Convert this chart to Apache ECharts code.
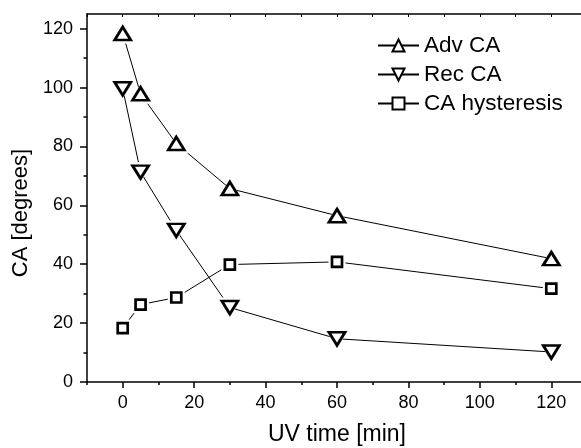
<!DOCTYPE html>
<html>
<head>
<meta charset="utf-8">
<script src="https://cdn.jsdelivr.net/npm/echarts@6/dist/echarts.min.js"></script>
<style>html,body{margin:0;padding:0;background:#fff}#c{width:581px;height:448px}</style>
</head>
<body>
<div id="c"></div>
<script>
// Data
var timeMin = [0, 5, 15, 30, 60, 120];
var advCA = [118.4, 97.9, 81, 65.7, 56.5, 41.9];
var recCA = [99.6, 71.3, 51.5, 25.3, 14.7, 10.2];
var hysteresis = [18.3, 26.3, 28.7, 39.9, 40.8, 31.7];
var seriesNames = ['Adv CA', 'Rec CA', 'CA hysteresis'];
var xMajorTicks = [0, 20, 40, 60, 80, 100, 120];
var xMinorTicks = [-10, 10, 30, 50, 70, 90, 110, 130];
var yMajorTicks = [0, 20, 40, 60, 80, 100, 120];
var yMinorTicks = [10, 30, 50, 70, 90, 110];

var FONT = '"Liberation Sans", Arial, sans-serif';
var downTri = 'path://M0,0L10,0L5,8.66Z';
var symbols = ['triangle', downTri, 'rect'];
var sizes = [[16, 13], [16, 13], [10, 10]];
var haloSizes = [[24, 20], [24, 20], [17, 17]];
var values = [advCA, recCA, hysteresis];
var BW = 2.7;

function pairs(arr) {
  return timeMin.map(function (t, i) { return [t, arr[i]]; });
}

var series = [];
values.forEach(function (v, k) {
  series.push({
    name: seriesNames[k], type: 'line', data: pairs(v), z: 2,
    symbol: symbols[k], symbolSize: sizes[k], showAllSymbol: true,
    lineStyle: { color: '#000', width: 1 },
    itemStyle: { color: '#fff', borderColor: '#000', borderWidth: BW },
    emphasis: { disabled: true }, animation: false
  });
});
values.forEach(function (v, k) {
  series.push({
    type: 'scatter', data: pairs(v), z: 3, silent: true,
    symbol: symbols[k], symbolSize: haloSizes[k],
    itemStyle: { color: '#fff', opacity: 1 }, animation: false
  });
});
values.forEach(function (v, k) {
  series.push({
    type: 'scatter', data: pairs(v), z: 4, silent: true,
    symbol: symbols[k], symbolSize: sizes[k],
    itemStyle: { color: '#fff', borderColor: '#000', borderWidth: BW, opacity: 1 }, animation: false
  });
});

var axisLineStyle = { onZero: false, lineStyle: { color: '#000', width: 1.5 } };
var chart = echarts.init(document.getElementById('c'), null, { renderer: 'canvas' });
chart.setOption({
  animation: false,
  backgroundColor: '#fff',
  textStyle: { fontFamily: FONT },
  grid: { left: 87, top: 14, right: -6, bottom: 66, containLabel: false, outerBoundsMode: 'none' },
  legend: {
    data: seriesNames, orient: 'vertical', left: 372, top: 29, padding: 5,
    itemWidth: 41, itemHeight: 15, itemGap: 6,
    textStyle: { fontSize: 22.5, color: '#000', fontFamily: FONT },
    selectedMode: false
  },
  xAxis: [
    {
      type: 'value', min: -10, max: 130, interval: 10, position: 'bottom',
      name: 'UV time [min]', nameLocation: 'middle', nameGap: 41,
      nameTextStyle: { fontSize: 23, color: '#000', fontFamily: FONT },
      axisLine: axisLineStyle,
      axisTick: { show: true, inside: false, length: 6, customValues: xMajorTicks, lineStyle: { color: '#000', width: 1.5 } },
      axisLabel: { customValues: xMajorTicks, fontSize: 18, color: '#000', margin: 12, fontFamily: FONT },
      splitLine: { show: false }
    },
    {
      type: 'value', min: -10, max: 130, interval: 10, position: 'bottom',
      axisLine: { show: false, onZero: false },
      axisTick: { show: true, inside: false, length: 3, customValues: xMinorTicks, lineStyle: { color: '#000', width: 1.5 } },
      axisLabel: { show: false }, splitLine: { show: false }
    },
    {
      type: 'value', min: -10, max: 130, interval: 10, position: 'top',
      axisLine: axisLineStyle,
      axisTick: { show: true, inside: true, length: 3, lineStyle: { color: '#000', width: 1 } },
      axisLabel: { show: false }, splitLine: { show: false }
    }
  ],
  yAxis: [
    {
      type: 'value', min: 0, max: 125, interval: 20, position: 'left',
      name: 'CA [degrees]', nameLocation: 'middle', nameGap: 55,
      nameTextStyle: { fontSize: 22, color: '#000', fontFamily: FONT, padding: [0, 30, 0, 0] },
      axisLine: axisLineStyle,
      axisTick: { show: true, inside: false, length: 7, customValues: yMajorTicks, lineStyle: { color: '#000', width: 1.5 } },
      axisLabel: { customValues: yMajorTicks, fontSize: 18, color: '#000', margin: 14, fontFamily: FONT },
      splitLine: { show: false }
    },
    {
      type: 'value', min: 0, max: 125, interval: 20, position: 'left',
      axisLine: { show: false, onZero: false },
      axisTick: { show: true, inside: false, length: 3.5, customValues: yMinorTicks, lineStyle: { color: '#000', width: 1.5 } },
      axisLabel: { show: false }, splitLine: { show: false }
    }
  ],
  series: series
});
</script>
</body>
</html>
